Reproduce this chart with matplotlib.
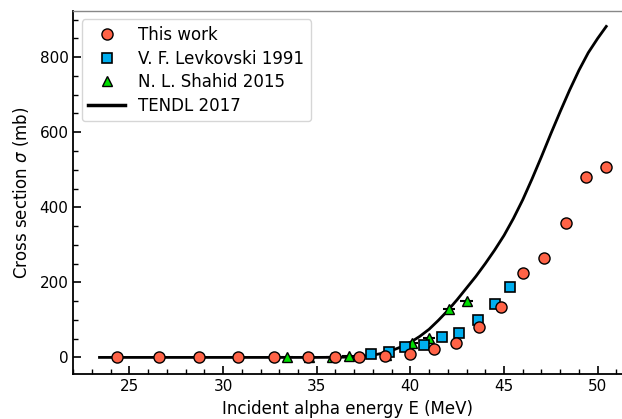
import matplotlib
matplotlib.use("Agg")
import matplotlib.pyplot as plt
from matplotlib.ticker import MultipleLocator

# This work
this_E = [24.36, 26.60, 28.74, 30.79, 32.71, 34.56, 35.99, 37.27, 38.66, 39.96,
          41.24, 42.45, 43.66, 44.86, 45.99, 47.14, 48.29, 49.38, 50.46]
this_S = [0.3, 0.3, 0.4, 0.4, 0.5, 0.6, 0.8, 1.5, 3.5, 8.8,
          21.3, 37.3, 80, 135, 226, 266, 357, 480, 507]

# V. F. Levkovski 1991
lev_E = [37.91, 38.84, 39.73, 40.71, 41.70, 42.60, 43.59, 44.52, 45.32]
lev_S = [8.8, 13.3, 26.7, 32.8, 53.3, 65.6, 101, 142, 188]

# N. L. Shahid 2015
sha_E = [33.41, 34.60, 35.81, 36.70, 38.70, 40.09, 41.01, 42.06, 43.00]
sha_S = [0.5, 0.8, 1.5, 2.5, 6.0, 39, 50.7, 128, 151]
sha_xerr = 0.33

# TENDL 2017
tendl_E = [23.4, 35, 36, 37, 37.5, 38, 38.5, 39, 39.5, 40, 40.5, 41, 41.5, 42, 42.5, 43,
           43.5, 44, 44.5, 45, 45.5, 46, 46.5, 47, 47.5, 48, 48.5, 49, 49.5, 50, 50.46]
tendl_S = [0, 0, 0.3, 1, 3, 6, 11, 18, 28, 40, 56, 75, 99, 125, 154, 185,
           216, 250, 286, 325, 370, 420, 476, 535, 596, 655, 712, 765, 812, 850, 882]

fig = plt.figure(figsize=(6.22, 4.19), dpi=100)
ax = fig.add_axes([0.1178, 0.1067, 0.8822, 0.867])

ax.plot(tendl_E, tendl_S, color='black', lw=2, zorder=2)
ax.errorbar(sha_E, sha_S, xerr=sha_xerr, fmt='none', ecolor='black',
            elinewidth=1.5, zorder=3)
ax.plot(sha_E, sha_S, '^', ms=7.5, mfc='#00dd00', mec='black', mew=1, zorder=3)
ax.plot(lev_E, lev_S, 's', ms=7.5, mfc='#00aeef', mec='black', mew=1.2, zorder=4)
ax.plot(this_E, this_S, 'o', ms=8, mfc='#ff6347', mec='black', mew=1, zorder=5)

labels = ['This work', 'V. F. Levkovski 1991', 'N. L. Shahid 2015', 'TENDL 2017']
handles = [
    plt.Line2D([], [], ls='none', marker='o', ms=8, mfc='#ff6347', mec='black', mew=1),
    plt.Line2D([], [], ls='none', marker='s', ms=7.5, mfc='#00aeef', mec='black', mew=1.2),
    plt.Line2D([], [], ls='none', marker='^', ms=7.5, mfc='#00dd00', mec='black', mew=1),
    plt.Line2D([], [], color='black', lw=2.5),
]
ax.legend(handles, labels, loc='upper left', fontsize=12, frameon=True, fancybox=True,
          edgecolor='#cccccc', borderpad=0.4, handletextpad=0.8, labelspacing=0.33,
          handlelength=2.2, borderaxespad=0.5)

ax.set_xlim(22.0, 51.3)
ax.set_ylim(-45, 923)
ax.xaxis.set_major_locator(MultipleLocator(5))
ax.xaxis.set_minor_locator(MultipleLocator(1))
ax.yaxis.set_major_locator(MultipleLocator(200))
ax.yaxis.set_minor_locator(MultipleLocator(50))
ax.tick_params(which='major', direction='in', length=6, width=1.2, labelsize=11)
ax.tick_params(which='minor', direction='in', length=3.5, width=1)

ax.spines['right'].set_visible(False)
ax.spines['top'].set_color('#888888')
ax.spines['top'].set_linewidth(1)
ax.spines['left'].set_linewidth(1.3)
ax.spines['bottom'].set_linewidth(1.3)

ax.set_xlabel('Incident alpha energy E (MeV)', fontsize=12, labelpad=4)
ax.set_ylabel(r'Cross section $\sigma$ (mb)', fontsize=12, labelpad=6)

fig.savefig('out.png', dpi=100)
